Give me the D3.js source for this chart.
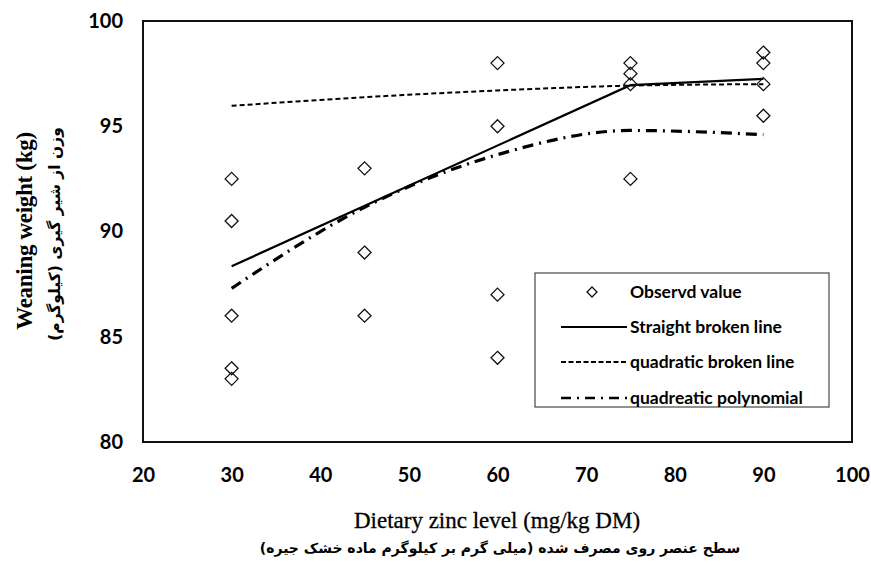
<!DOCTYPE html>
<html>
<head>
<meta charset="utf-8">
<script src="https://cdn.jsdelivr.net/npm/d3@7"></script>
<style>
  body { margin: 0; background: #fff; }
  svg { display: block; }
</style>
</head>
<body>
<script>
// zinc levels and observed weaning weights
const levels = [30, 45, 60, 75, 90];
const obsX = [30, 30, 30, 30, 30, 45, 45, 45, 60, 60, 60, 60, 75, 75, 75, 75, 90, 90, 90, 90];
const obsY = [92.5, 90.5, 86, 83.5, 83, 93, 89, 86, 98, 95, 87, 84, 98, 97.5, 97, 92.5, 98.5, 98, 97, 95.5];

// fitted models
const straightX = [30, 75, 90];
const straightY = [88.35, 96.95, 97.25];
const quadBrokenY = [95.97, 96.38, 96.7, 96.93, 97.0];
const quadPolyY = [87.3, 91.15, 93.65, 94.8, 94.6];

const xTicks = [20, 30, 40, 50, 60, 70, 80, 90, 100];
const yTicks = [80, 85, 90, 95, 100];

const legendLabels = ["Observd value", "Straight broken line", "quadratic broken line", "quadreatic polynomial"];

const width = 871, height = 567;
const plotL = 143, plotR = 852, plotT = 21, plotB = 442;

const x = d3.scaleLinear().domain([20, 100]).range([plotL, plotR]);
const y = d3.scaleLinear().domain([80, 100]).range([plotB, plotT]);

const svg = d3.select("body").append("svg")
  .attr("width", width)
  .attr("height", height);

const tickFont = "Lato, 'Open Sans', sans-serif";

// y tick labels
svg.append("g")
  .attr("transform", "translate(" + (plotL - 20) + ",0)")
  .call(d3.axisLeft(y).tickValues(yTicks).tickSize(0).tickPadding(0))
  .call(g => g.select(".domain").remove())
  .selectAll("text")
  .attr("font-family", tickFont)
  .attr("font-weight", "bold")
  .attr("font-size", 20)
  .attr("fill", "#000");

// x tick labels
svg.append("g")
  .attr("transform", "translate(0," + (plotB + 26) + ")")
  .call(d3.axisBottom(x).tickValues(xTicks).tickSize(0).tickPadding(0))
  .call(g => g.select(".domain").remove())
  .selectAll("text")
  .attr("font-family", tickFont)
  .attr("font-weight", "bold")
  .attr("font-size", 20)
  .attr("fill", "#000");

// frame
svg.append("rect")
  .attr("x", plotL).attr("y", plotT)
  .attr("width", plotR - plotL).attr("height", plotB - plotT)
  .attr("fill", "none")
  .attr("stroke", "#111")
  .attr("stroke-width", 2);

const line = d3.line()
  .x(d => x(d[0]))
  .y(d => y(d[1]));

const styles = [
  { w: 2.2, dash: null },
  { w: 2, dash: "5,3" },
  { w: 3.2, dash: "11,6,2,6" }
];

function drawSeries(xs, ys, st, curve) {
  let pts = xs.map((v, i) => [v, ys[i]]);
  svg.append("path")
    .datum(pts)
    .attr("fill", "none")
    .attr("stroke", "#000")
    .attr("stroke-width", st.w)
    .attr("stroke-dasharray", st.dash)
    .attr("d", line.curve(curve));
}

drawSeries(straightX, straightY, styles[0], d3.curveLinear);
drawSeries(levels, quadBrokenY, styles[1], d3.curveMonotoneX);
drawSeries(levels, quadPolyY, styles[2], d3.curveMonotoneX);

// observed diamonds
const diamond = "M0,-6.5L6.5,0L0,6.5L-6.5,0Z";
svg.selectAll(".obs")
  .data(obsX.map((v, i) => [v, obsY[i]]))
  .enter()
  .append("path")
  .attr("class", "obs")
  .attr("d", diamond)
  .attr("transform", d => "translate(" + x(d[0]) + "," + y(d[1]) + ")")
  .attr("fill", "none")
  .attr("stroke", "#111")
  .attr("stroke-width", 1.3);

// legend
const lg = svg.append("g").attr("transform", "translate(535,273)");
lg.append("rect")
  .attr("width", 294).attr("height", 134)
  .attr("fill", "#fff")
  .attr("stroke", "#222")
  .attr("stroke-width", 1);

const rowY = [19, 54, 89, 125];
lg.append("path")
  .attr("d", "M0,-5L5,0L0,5L-5,0Z")
  .attr("transform", "translate(57," + rowY[0] + ")")
  .attr("fill", "none")
  .attr("stroke", "#111")
  .attr("stroke-width", 1.3);

styles.forEach((st, i) => {
  lg.append("line")
    .attr("x1", 26).attr("x2", 92)
    .attr("y1", rowY[i + 1]).attr("y2", rowY[i + 1])
    .attr("stroke", "#000")
    .attr("stroke-width", i == 2 ? 2.4 : 1.9)
    .attr("stroke-dasharray", i == 0 ? null : (i == 1 ? "5,2.5" : "10,6,2,6"));
});

lg.selectAll(".lt")
  .data(legendLabels)
  .enter()
  .append("text")
  .attr("x", 95)
  .attr("y", (d, i) => rowY[i])
  .attr("dy", "0.35em")
  .attr("font-family", tickFont)
  .attr("font-weight", "bold")
  .attr("font-size", 17.5)
  .attr("fill", "#000")
  .text(d => d);

// axis titles
svg.append("text")
  .attr("x", 497).attr("y", 528)
  .attr("text-anchor", "middle")
  .attr("font-family", "'Liberation Serif', 'Times New Roman', serif")
  .attr("font-size", 23)
  .attr("stroke", "#000")
  .attr("stroke-width", 0.3)
  .attr("fill", "#000")
  .text("Dietary zinc level (mg/kg DM)");

svg.append("text")
  .attr("x", 500).attr("y", 553)
  .attr("text-anchor", "middle")
  .attr("direction", "rtl")
  .attr("font-family", "'DejaVu Sans', sans-serif")
  .attr("font-weight", "bold")
  .attr("font-size", 14)
  .attr("fill", "#000")
  .text("سطح عنصر روی مصرف شده (میلی گرم بر کیلوگرم ماده خشک جیره)");

svg.append("text")
  .attr("transform", "translate(32,231) rotate(-90)")
  .attr("text-anchor", "middle")
  .attr("font-family", "'Liberation Serif', 'Times New Roman', serif")
  .attr("font-weight", "bold")
  .attr("font-size", 23)
  .attr("letter-spacing", -0.3)
  .attr("fill", "#000")
  .text("Weaning weight (kg)");

svg.append("text")
  .attr("transform", "translate(60,234) rotate(-90)")
  .attr("text-anchor", "middle")
  .attr("direction", "rtl")
  .attr("font-family", "'DejaVu Sans', sans-serif")
  .attr("font-weight", "bold")
  .attr("font-size", 15.5)
  .attr("fill", "#000")
  .text("وزن از شیر گیری (کیلوگرم)");
</script>
</body>
</html>
